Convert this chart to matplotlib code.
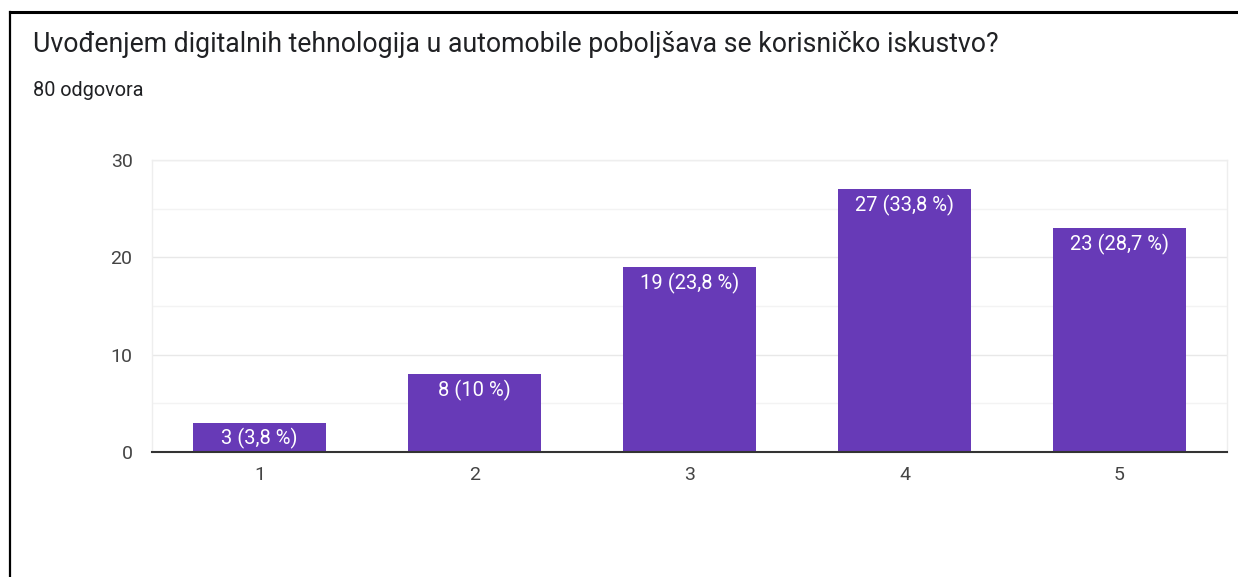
import matplotlib
matplotlib.use("Agg")
import matplotlib.pyplot as plt
from matplotlib.lines import Line2D
from matplotlib.ticker import MultipleLocator

categories = ["1", "2", "3", "4", "5"]
counts = [3, 8, 19, 27, 23]
percent_labels = ["3,8 %", "10 %", "23,8 %", "33,8 %", "28,7 %"]
yticks = [0, 10, 20, 30]

title = "Uvođenjem digitalnih tehnologija u automobile poboljšava se korisničko iskustvo?"
subtitle = "80 odgovora"

plt.rcParams['font.family'] = ['Roboto', 'DejaVu Sans']

W, H = 1238, 577
fig = plt.figure(figsize=(W / 100, H / 100), dpi=100)
fig.patch.set_facecolor("white")

ax = fig.add_axes([152 / W, 1 - 452 / H, (1227 - 152) / W, (452 - 160) / H])
x = list(range(1, len(categories) + 1))
bars = ax.bar(x, counts, width=0.615, color="#673ab7", zorder=3)
ax.set_xlim(0.5, len(categories) + 0.5)
ax.set_ylim(0, 30)
ax.set_xticks(x)
ax.set_xticklabels(categories)
ax.set_yticks(yticks)
ax.yaxis.set_minor_locator(MultipleLocator(5))
ax.grid(axis="y", which="major", color="#e8e8e8", linewidth=1, zorder=0)
ax.grid(axis="y", which="minor", color="#f3f3f3", linewidth=1, zorder=0)
for s in ["top", "right", "left"]:
    ax.spines[s].set_color("#eeeeee")
    ax.spines[s].set_linewidth(1)
ax.spines["bottom"].set_color("#333333")
ax.spines["bottom"].set_linewidth(1.5)
ax.spines["bottom"].set_zorder(5)
ax.tick_params(axis="both", which="both", length=0, labelsize=14, labelcolor="#444444")
ax.tick_params(axis="y", pad=14)
ax.tick_params(axis="x", pad=10)

for xi, c, p in zip(x, counts, percent_labels):
    ax.annotate(f"{c} ({p})", xy=(xi, c), xytext=(0, -11.5), textcoords="offset points",
                ha="center", va="center", color="white", fontsize=14.5, zorder=4)

fig.text(33 / W, 1 - 45 / H, title, fontsize=19.2, color="#202124", ha="left", va="center")
fig.text(33 / W, 1 - 91 / H, subtitle, fontsize=14.3, color="#202124", ha="left", va="center")

fig.add_artist(Line2D([10 / W, 1.0], [1 - 12 / H, 1 - 12 / H], color="black", linewidth=2.2,
                      transform=fig.transFigure))
fig.add_artist(Line2D([10 / W, 10 / W], [0, 1 - 12 / H], color="black", linewidth=1.6,
                      transform=fig.transFigure))

fig.savefig("out.png", dpi=100, facecolor="white")
